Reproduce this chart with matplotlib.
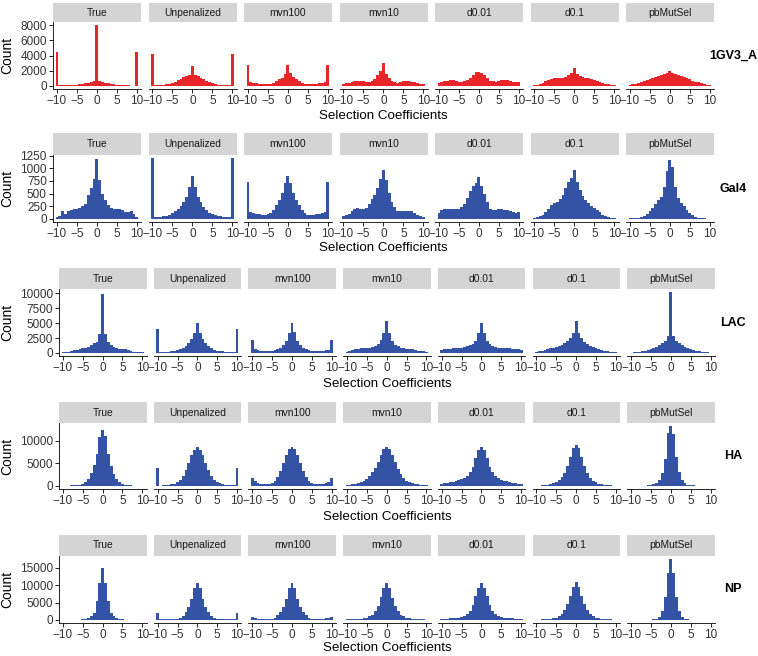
import numpy as np
import matplotlib.pyplot as plt

plt.rcParams['font.family'] = ['Liberation Sans', 'DejaVu Sans']

methods = ['True', 'Unpenalized', 'mvn100', 'mvn10', 'd0.01', 'd0.1', 'pbMutSel']
datasets = ['1GV3_A', 'Gal4', 'LAC', 'HA', 'NP']

# 29 bins centred on -10 ... 10
bin_centers = np.linspace(-10, 10, 29)

# counts, one list per panel
gv3_true = [4500, 60, 60, 70, 80, 100, 130, 170, 220, 280, 350, 430, 520, 600, 8000, 600, 500, 420, 340, 270, 210, 160, 120, 90, 70, 60, 50, 50, 4500]
gv3_unpen = [4150, 80, 100, 130, 170, 230, 300, 400, 550, 750, 950, 1150, 1300, 1450, 2600, 1400, 1250, 1050, 850, 650, 480, 350, 250, 180, 130, 100, 90, 80, 4150]
gv3_mvn100 = [2700, 550, 450, 380, 300, 230, 200, 220, 300, 450, 650, 850, 1100, 1600, 2700, 1700, 1150, 900, 650, 450, 300, 230, 200, 250, 320, 380, 450, 520, 2700]
gv3_mvn10 = [300, 350, 450, 550, 620, 650, 650, 620, 550, 500, 600, 900, 1400, 2000, 3000, 1600, 1100, 700, 500, 450, 550, 650, 680, 650, 580, 480, 380, 280, 200]
gv3_d001 = [450, 500, 600, 700, 750, 720, 650, 580, 550, 600, 800, 1100, 1500, 1800, 1850, 1700, 1400, 1000, 700, 600, 580, 650, 720, 760, 720, 620, 520, 480, 500]
gv3_d01 = [100, 150, 250, 400, 600, 800, 950, 1000, 1050, 1050, 1100, 1200, 1400, 1700, 2300, 1600, 1350, 1150, 1050, 1000, 900, 800, 650, 500, 400, 300, 220, 150, 100]
gv3_pb = [150, 200, 300, 400, 500, 620, 750, 880, 1000, 1150, 1300, 1450, 1600, 1750, 1900, 1750, 1600, 1450, 1300, 1150, 1000, 850, 700, 580, 460, 350, 260, 180, 130]

gal_true = [40, 60, 150, 100, 150, 180, 200, 200, 220, 250, 300, 470, 600, 780, 1180, 770, 500, 380, 280, 220, 200, 200, 190, 170, 130, 130, 160, 100, 40]
gal_unpen = [1200, 30, 40, 40, 50, 60, 80, 110, 150, 200, 260, 330, 430, 630, 850, 630, 430, 330, 240, 170, 120, 90, 70, 60, 50, 40, 40, 30, 1200]
gal_mvn100 = [730, 140, 120, 100, 90, 80, 80, 90, 120, 180, 270, 380, 520, 700, 850, 700, 520, 380, 270, 180, 110, 80, 70, 80, 90, 100, 120, 140, 730]
gal_mvn10 = [50, 70, 100, 150, 200, 210, 200, 190, 220, 300, 400, 480, 600, 780, 970, 760, 520, 330, 240, 160, 150, 150, 160, 160, 150, 110, 80, 50, 30]
gal_d001 = [120, 170, 190, 200, 200, 200, 190, 200, 230, 300, 420, 550, 650, 700, 820, 650, 500, 340, 200, 180, 180, 190, 190, 180, 170, 160, 140, 120, 130]
gal_d01 = [15, 30, 50, 80, 130, 200, 280, 320, 340, 400, 480, 600, 720, 800, 960, 730, 570, 460, 380, 310, 260, 220, 180, 130, 80, 50, 30, 20, 10]
gal_pb = [10, 15, 20, 25, 40, 60, 100, 150, 220, 300, 380, 440, 620, 950, 1170, 1020, 620, 420, 320, 250, 180, 120, 70, 40, 25, 15, 10, 8, 5]

lac_true = [100, 100, 150, 300, 500, 550, 650, 750, 850, 1000, 1300, 1600, 1900, 3200, 9800, 3200, 1800, 1300, 1000, 850, 700, 650, 600, 550, 400, 200, 100, 80, 80]
lac_unpen = [4000, 100, 100, 150, 200, 250, 350, 450, 600, 800, 1100, 1600, 2300, 3300, 5000, 3300, 2300, 1600, 1100, 800, 550, 400, 300, 250, 200, 150, 120, 100, 4000]
lac_mvn100 = [2200, 600, 500, 400, 350, 300, 300, 350, 450, 650, 900, 1300, 2000, 3300, 5100, 3500, 2000, 1300, 900, 650, 450, 350, 300, 300, 350, 400, 450, 550, 2200]
lac_mvn10 = [200, 300, 450, 600, 700, 750, 800, 850, 900, 1000, 1200, 1500, 2200, 3300, 5300, 3300, 2000, 1400, 1100, 900, 800, 700, 650, 600, 500, 400, 300, 250, 200]
lac_d001 = [500, 600, 700, 700, 750, 800, 850, 900, 1000, 1100, 1300, 1500, 2000, 3300, 5000, 3300, 2000, 1500, 1200, 1000, 900, 850, 800, 800, 750, 700, 650, 600, 500]
lac_d01 = [150, 250, 350, 450, 600, 750, 900, 1050, 1200, 1400, 1700, 2000, 2500, 3300, 5300, 3400, 2500, 1900, 1500, 1200, 1000, 850, 700, 550, 400, 300, 200, 150, 100]
lac_pb = [50, 80, 120, 180, 250, 350, 450, 600, 800, 1000, 1300, 1600, 2000, 2800, 10200, 2800, 2000, 1600, 1300, 1000, 800, 600, 450, 350, 250, 180, 120, 80, 50]

ha_true = [100, 100, 100, 120, 150, 200, 300, 500, 900, 1600, 2800, 4600, 7000, 10900, 12500, 11000, 7000, 4500, 2700, 1500, 800, 400, 250, 150, 120, 100, 100, 100, 100]
ha_unpen = [4000, 100, 150, 200, 250, 350, 500, 800, 1300, 2200, 3500, 5000, 6800, 8000, 8700, 8000, 6800, 5000, 3500, 2300, 1400, 900, 600, 400, 300, 250, 200, 150, 4000]
ha_mvn100 = [1800, 1000, 700, 550, 450, 400, 500, 700, 1200, 2000, 3300, 5000, 6800, 8200, 8600, 8200, 6800, 5000, 3300, 2000, 1200, 700, 500, 400, 450, 550, 650, 800, 1800]
ha_mvn10 = [200, 300, 400, 500, 700, 900, 1200, 1600, 2200, 3000, 4000, 5300, 6800, 8200, 8600, 8200, 6800, 5300, 3800, 2600, 1800, 1200, 800, 600, 450, 350, 250, 200, 150]
ha_d001 = [500, 600, 700, 800, 950, 1100, 1300, 1500, 1800, 2200, 3000, 4300, 6200, 7900, 8700, 7900, 6200, 4300, 3000, 2200, 1700, 1400, 1200, 1000, 850, 700, 600, 500, 400]
ha_d01 = [80, 100, 150, 200, 300, 400, 600, 900, 1300, 1900, 2900, 4400, 6400, 8400, 9100, 8400, 6400, 4400, 2900, 1800, 1200, 800, 500, 350, 250, 180, 120, 100, 80]
ha_pb = [30, 40, 50, 60, 80, 100, 150, 250, 400, 700, 1300, 2800, 6000, 11800, 13300, 11500, 6500, 3000, 1300, 600, 300, 180, 120, 80, 60, 50, 40, 30, 30]

np_true = [50, 50, 50, 50, 60, 70, 100, 150, 300, 600, 1000, 2000, 5500, 10700, 15000, 10500, 5500, 2000, 1000, 600, 300, 150, 100, 70, 60, 50, 50, 50, 50]
np_unpen = [2000, 150, 150, 150, 150, 200, 250, 350, 600, 1200, 2200, 3800, 6000, 9300, 10500, 9300, 6000, 3800, 2200, 1200, 600, 350, 250, 200, 150, 150, 150, 150, 2000]
np_mvn100 = [900, 600, 400, 300, 250, 250, 300, 400, 700, 1300, 2300, 3800, 6000, 9300, 10500, 9300, 6000, 3800, 2300, 1300, 700, 400, 300, 250, 300, 400, 500, 650, 900]
np_mvn10 = [150, 200, 250, 300, 350, 400, 500, 700, 1000, 1500, 2500, 4000, 6500, 9200, 10500, 9200, 6300, 4000, 2500, 1500, 1000, 700, 500, 400, 300, 250, 200, 150, 100]
np_d001 = [300, 350, 400, 450, 500, 550, 650, 800, 1100, 1600, 2600, 4200, 6800, 9300, 10500, 9300, 6800, 4200, 2600, 1600, 1100, 800, 650, 550, 500, 450, 400, 350, 300]
np_d01 = [100, 120, 150, 200, 250, 350, 500, 700, 1100, 1700, 2800, 4500, 7000, 9600, 10900, 9600, 7000, 4500, 2800, 1700, 1100, 700, 500, 350, 250, 200, 150, 120, 100]
np_pb = [30, 30, 30, 40, 50, 60, 80, 120, 200, 400, 900, 2500, 6500, 13500, 17500, 13500, 6500, 2500, 900, 400, 200, 120, 80, 60, 50, 40, 30, 30, 30]

row_counts = [
    [gv3_true, gv3_unpen, gv3_mvn100, gv3_mvn10, gv3_d001, gv3_d01, gv3_pb],
    [gal_true, gal_unpen, gal_mvn100, gal_mvn10, gal_d001, gal_d01, gal_pb],
    [lac_true, lac_unpen, lac_mvn100, lac_mvn10, lac_d001, lac_d01, lac_pb],
    [ha_true, ha_unpen, ha_mvn100, ha_mvn10, ha_d001, ha_d01, ha_pb],
    [np_true, np_unpen, np_mvn100, np_mvn10, np_d001, np_d01, np_pb],
]
row_yticks = [
    [0, 2000, 4000, 6000, 8000],
    [0, 250, 500, 750, 1000, 1250],
    [0, 2500, 5000, 7500, 10000],
    [0, 5000, 10000],
    [0, 5000, 10000, 15000],
]
row_colors = ['#E8262A', '#3553A4', '#3553A4', '#3553A4', '#3553A4']

# layout in pixels: x0, strip top, strip bottom, panel bottom, step, width, xlabel y
layout = [
    (53, 3, 22, 89, 95.5, 88, 116),
    (53, 133, 155, 222, 95.5, 88, 248),
    (59, 268, 289, 356, 94.7, 87.5, 384),
    (59, 402, 423, 489, 94.7, 87.5, 517),
    (59, 535, 556, 623, 94.7, 87.5, 648),
]

W, H = 758, 656
fig = plt.figure(figsize=(W / 100, H / 100), dpi=100)


def px(x, y, w, h):
    return [x / W, 1 - (y + h) / H, w / W, h / H]


binw = bin_centers[1] - bin_centers[0]

for r in range(5):
    x0, st, sb, pb, step, pw, xly = layout[r]
    ymax = max(max(c) for c in row_counts[r])
    for j in range(7):
        left = x0 + j * step
        sax = fig.add_axes(px(left, st, pw, sb - st))
        sax.set_facecolor('#D4D4D4')
        for s in sax.spines.values():
            s.set_visible(False)
        sax.set_xticks([])
        sax.set_yticks([])
        sax.text(0.5, 0.5, methods[j], ha='center', va='center',
                 fontsize=7.4, color='#1a1a1a', transform=sax.transAxes)

        ax = fig.add_axes(px(left, sb, pw, pb - sb))
        ax.bar(bin_centers, row_counts[r][j], width=binw,
               color=row_colors[r], linewidth=0)
        ax.set_xlim(-11, 11.05)
        ax.set_ylim(-0.05 * ymax, 1.05 * ymax)
        ax.spines['top'].set_visible(False)
        ax.spines['right'].set_visible(False)
        ax.spines['bottom'].set_linewidth(0.6)
        ax.spines['left'].set_linewidth(0.6)
        ax.set_xticks([-10, -5, 0, 5, 10])
        ax.tick_params(axis='x', length=3, width=0.6, pad=1.5,
                       labelsize=8.5, labelcolor='#333333')
        if j == 0:
            ax.set_yticks(row_yticks[r])
            ax.tick_params(axis='y', length=3, width=0.6, pad=1.5,
                           labelsize=8.5, labelcolor='#333333')
        else:
            ax.spines['left'].set_visible(False)
            ax.set_yticks([])

    x_end = x0 + 6 * step + pw
    fig.text(7 / W, 1 - ((sb + pb) / 2) / H, 'Count', rotation=90,
             ha='center', va='center', fontsize=10)
    fig.text(((x0 + x_end) / 2) / W, 1 - xly / H, 'Selection Coefficients',
             ha='center', va='center', fontsize=9.6)
    fig.text(733 / W, 1 - ((sb + pb) / 2) / H, datasets[r],
             ha='center', va='center', fontsize=9, fontweight='bold')

fig.savefig('out.png', dpi=100)
